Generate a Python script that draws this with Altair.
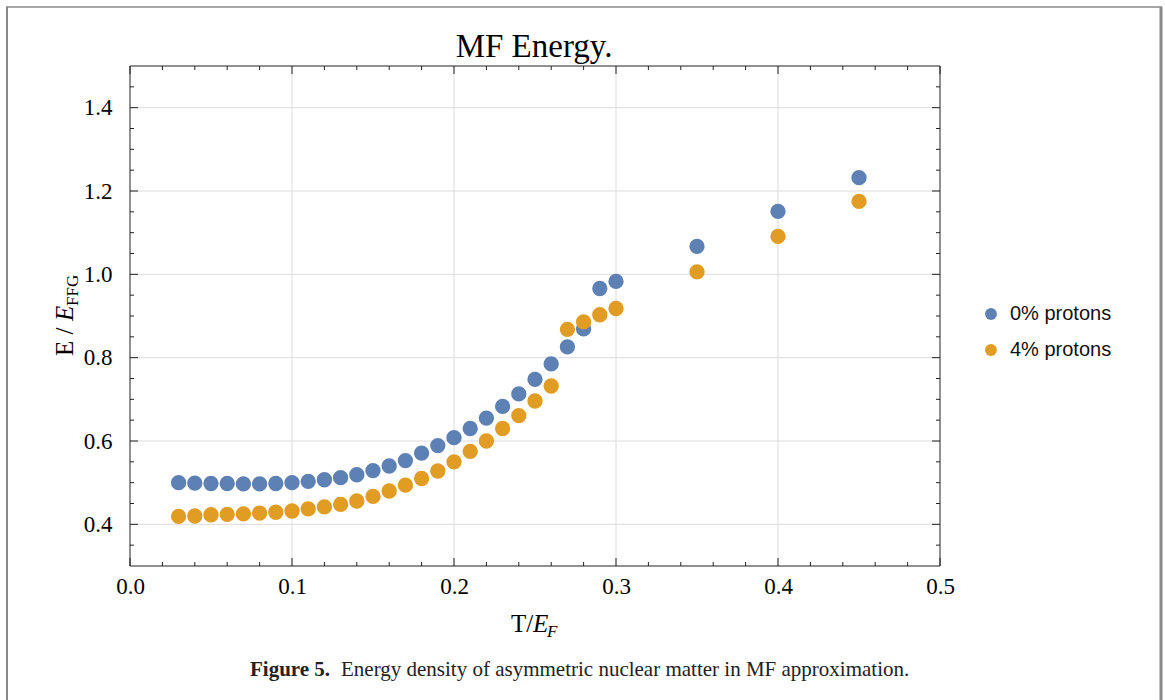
import altair as alt
import pandas as pd

# Temperature grid (T / E_F) and the two energy series
T = [0.03, 0.04, 0.05, 0.06, 0.07, 0.08, 0.09, 0.10, 0.11, 0.12,
     0.13, 0.14, 0.15, 0.16, 0.17, 0.18, 0.19, 0.20, 0.21, 0.22,
     0.23, 0.24, 0.25, 0.26, 0.27, 0.28, 0.29, 0.30, 0.35, 0.40, 0.45]
E_0pct = [0.500, 0.499, 0.498, 0.498, 0.497, 0.497, 0.498, 0.500, 0.503, 0.507,
          0.512, 0.519, 0.529, 0.540, 0.553, 0.571, 0.589, 0.608, 0.630, 0.655,
          0.683, 0.713, 0.748, 0.785, 0.826, 0.869, 0.966, 0.983, 1.067, 1.151, 1.232]
E_4pct = [0.419, 0.420, 0.423, 0.424, 0.425, 0.427, 0.429, 0.432, 0.437, 0.442,
          0.448, 0.456, 0.467, 0.480, 0.494, 0.510, 0.528, 0.550, 0.575, 0.600,
          0.630, 0.661, 0.696, 0.732, 0.868, 0.886, 0.903, 0.918, 1.006, 1.091, 1.175]
series = ["0% protons", "4% protons"]
colors = ["#5E81B5", "#E19C24"]

# Axis ticks and grid
x_major = [0.0, 0.1, 0.2, 0.3, 0.4, 0.5]
x_minor = [0.02, 0.04, 0.06, 0.08, 0.12, 0.14, 0.16, 0.18, 0.22, 0.24, 0.26, 0.28,
           0.32, 0.34, 0.36, 0.38, 0.42, 0.44, 0.46, 0.48]
x_grid = [0.1, 0.2, 0.3, 0.4]
y_major = [0.4, 0.6, 0.8, 1.0, 1.2, 1.4]
y_minor = [0.35, 0.45, 0.5, 0.55, 0.65, 0.7, 0.75, 0.85, 0.9, 0.95,
           1.05, 1.1, 1.15, 1.25, 1.3, 1.35, 1.45]
y_grid = y_major

W, H = 810, 500
SERIF = "Liberation Serif"
SANS = "Liberation Sans"
MAJ, MIN = 8, 4

xscale = alt.Scale(domain=[0, 0.5], nice=False, zero=False)
yscale = alt.Scale(domain=[0.3, 1.5], nice=False, zero=False)
xaxis = alt.Axis(values=x_major, format=".1f", grid=False, domain=False, ticks=False,
                 labelFont=SERIF, labelFontSize=23, labelColor="black",
                 labelPadding=9, labelFlush=False, title=None)
yaxis = alt.Axis(values=y_major, format=".1f", grid=False, domain=False, ticks=False,
                 labelFont=SERIF, labelFontSize=23, labelColor="black",
                 labelPadding=18, labelFlush=False, title=None)


def X(field="T"):
    return alt.X(f"{field}:Q", scale=xscale, axis=xaxis)


def Y(field="E"):
    return alt.Y(f"{field}:Q", scale=yscale, axis=yaxis)


points_df = pd.DataFrame({
    "T": T + T,
    "E": E_0pct + E_4pct,
    "series": [series[0]] * len(T) + [series[1]] * len(T),
})

xg = alt.Chart(pd.DataFrame({"T": x_grid})).mark_rule(color="#dcdcdc", strokeWidth=1).encode(
    x=X(), y=alt.value(0), y2=alt.value(H))
yg = alt.Chart(pd.DataFrame({"E": y_grid})).mark_rule(color="#dcdcdc", strokeWidth=1).encode(
    y=Y(), x=alt.value(0), x2=alt.value(W))

points = alt.Chart(points_df).mark_circle(size=235, opacity=1).encode(
    x=X(), y=Y(),
    color=alt.Color("series:N", scale=alt.Scale(domain=series, range=colors),
                    legend=alt.Legend(title=None, orient="none", legendX=851, legendY=238,
                                      symbolType="circle", symbolSize=140,
                                      labelFont=SANS, labelFontSize=20, labelColor="#111",
                                      labelOffset=9, rowPadding=16, padding=0)),
)


def xticks(vals, length):
    d = pd.DataFrame({"T": vals})
    bottom = alt.Chart(d).mark_rule(color="#222").encode(x=X(), y=alt.value(H), y2=alt.value(H - length))
    top = alt.Chart(d).mark_rule(color="#222").encode(x=X(), y=alt.value(0), y2=alt.value(length))
    return [bottom, top]


def yticks(vals, length):
    d = pd.DataFrame({"E": vals})
    left = alt.Chart(d).mark_rule(color="#222").encode(y=Y(), x=alt.value(0), x2=alt.value(length))
    right = alt.Chart(d).mark_rule(color="#222").encode(y=Y(), x=alt.value(W), x2=alt.value(W - length))
    return [left, right]


frame = alt.Chart(pd.DataFrame({"k": [0]})).mark_rect(
    fillOpacity=0, stroke="#222", strokeWidth=1).encode(
    x=alt.value(0), x2=alt.value(W), y=alt.value(0), y2=alt.value(H))


def label(text, x, y, size, font=SERIF, style="normal", weight="normal",
          align="left", angle=0, color="black"):
    return alt.Chart(pd.DataFrame({"t": [text]})).mark_text(
        font=font, fontSize=size, fontStyle=style, fontWeight=weight,
        align=align, baseline="alphabetic", angle=angle, color=color,
    ).encode(text="t:N", x=alt.value(x), y=alt.value(y))


texts = [
    # title
    label("MF Energy.", 404, -9, 33, align="center"),
    # x axis title: T/E_F
    label("T/", 381, 566, 25),
    label("E", 403, 566, 25, style="italic"),
    label("F", 417, 571, 17, style="italic"),
    # y axis title: E / E_FFG (reads bottom to top)
    label("E / ", -57, 290, 25, angle=270),
    label("E", -57, 255, 25, style="italic", angle=270),
    label("FFG", -52, 240, 17, angle=270),
    # caption
    label("Figure 5.", 120, 610, 21, weight="bold", color="#222"),
    label("Energy density of asymmetric nuclear matter in MF approximation.", 211, 610, 21, color="#222"),
]

# page border around the figure
border = [
    alt.Chart(pd.DataFrame({"k": [0]})).mark_rule(color="#888", strokeWidth=2).encode(
        x=alt.value(-123), y=alt.value(-59), y2=alt.value(650)),
    alt.Chart(pd.DataFrame({"k": [0]})).mark_rule(color="#888", strokeWidth=3).encode(
        x=alt.value(1031), y=alt.value(-59), y2=alt.value(650)),
    alt.Chart(pd.DataFrame({"k": [0]})).mark_rule(color="#888", strokeWidth=1.5).encode(
        x=alt.value(-124), x2=alt.value(1032), y=alt.value(-59)),
]

layers = ([xg, yg, points]
          + xticks(x_major, MAJ) + xticks(x_minor, MIN)
          + yticks(y_major, MAJ) + yticks(y_minor, MIN)
          + [frame] + texts + border)

chart = alt.layer(*layers).properties(
    width=W, height=H,
    padding={"left": 130, "top": 66, "right": 225, "bottom": 134},
    autosize=alt.AutoSizeParams(type="none"),
    background="white",
).configure_view(stroke=None)

chart.save("out.html", embed_options={"renderer": "svg", "actions": False})
